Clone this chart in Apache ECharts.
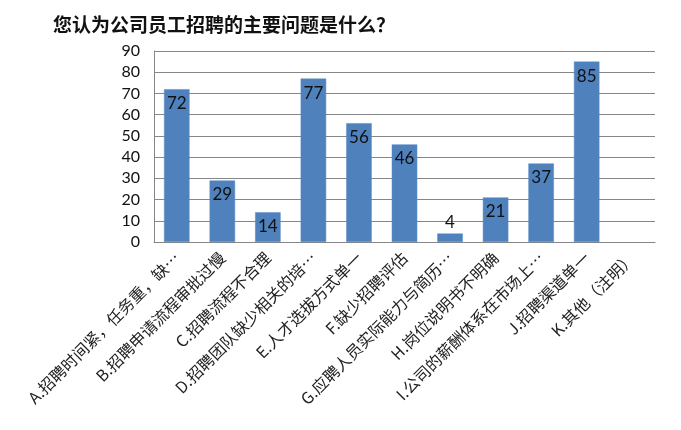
<!DOCTYPE html>
<html>
<head>
    <meta charset="utf-8">
    <title>招聘问题</title>
    <script src="https://cdn.jsdelivr.net/npm/echarts@6/dist/echarts.min.js"></script>
    <style>
        html, body { margin: 0; padding: 0; background: #fff; }
    </style>
</head>
<body>
    <div id="main" style="width: 681px;height:430px;"></div>
    <script type="text/javascript">
        var categories = [
            'A.招聘时间紧，任务重，缺…',
            'B.招聘申请流程审批过慢',
            'C.招聘流程不合理',
            'D.招聘团队缺少相关的培…',
            'E.人才选拔方式单一',
            'F.缺少招聘评估',
            'G.应聘人员实际能力与简历…',
            'H.岗位说明书不明确',
            'I.公司的薪酬体系在市场上…',
            'J.招聘渠道单一',
            'K.其他（注明）'
        ];
        var counts = [72, 29, 14, 77, 56, 46, 4, 21, 37, 85, null];
        var titleText = '您认为公司员工招聘的主要问题是什么？';

        var myChart = echarts.init(document.getElementById('main'));

        // 值太小的柱子放不下标签，改放到柱顶上方
        var barData = counts.map(function (v) {
            if (v !== null && v < 10) {
                return { value: v, label: { position: 'top', distance: 2 } };
            }
            return v;
        });

        var option = {
            animation: false,
            title: {
                text: titleText,
                left: 48,
                top: 10,
                textStyle: {
                    fontFamily: 'Noto Sans CJK SC',
                    fontSize: 19,
                    fontWeight: 'bold',
                    color: '#111'
                }
            },
            grid: {
                left: 154,
                right: 26,
                top: 51,
                bottom: 188
            },
            xAxis: {
                type: 'category',
                data: categories,
                axisLine: { lineStyle: { color: '#868686' } },
                axisTick: { show: false },
                axisLabel: {
                    interval: 0,
                    rotate: 45,
                    margin: 13,
                    fontFamily: 'Noto Sans CJK SC',
                    fontSize: 16,
                    color: '#222'
                }
            },
            yAxis: {
                type: 'value',
                min: 0,
                max: 90,
                interval: 10,
                axisLine: { show: true, lineStyle: { color: '#868686' } },
                axisTick: { show: false },
                splitLine: { lineStyle: { color: '#868686' } },
                axisLabel: {
                    margin: 14,
                    fontFamily: 'Lato',
                    fontSize: 16,
                    color: '#111'
                }
            },
            series: [
                {
                    type: 'bar',
                    data: barData,
                    barWidth: '56%',
                    itemStyle: {
                        color: '#4F81BD',
                        borderColor: '#5B8CC6',
                        borderWidth: 0.5
                    },
                    label: {
                        show: true,
                        position: 'insideTop',
                        distance: 6,
                        fontFamily: 'Lato',
                        fontSize: 17,
                        color: '#111'
                    }
                }
            ]
        };
        myChart.setOption(option);
    </script>
</body>
</html>
